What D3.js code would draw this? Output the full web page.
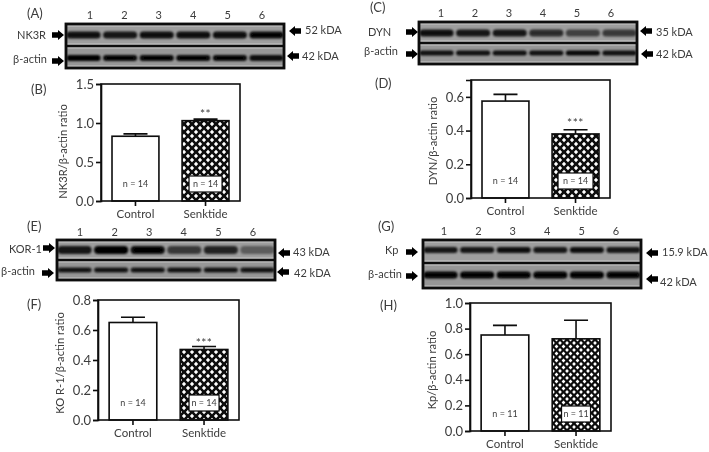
<!DOCTYPE html>
<html>
<head>
<meta charset="utf-8">
<title>Western blots and band ratios</title>
<script src="https://d3js.org/d3.v7.min.js"></script>
<style type="text/css">
	html, body { margin: 0; padding: 0; background: #fff; }
	svg { display: block; }
	text { font-family: Lato, "Open Sans", sans-serif; fill: #3c3c3c; }
	.axis text { font-size: 13px; fill: #3c3c3c; }
	.xaxis text { font-size: 11.5px; }
	.axis path, .axis line { stroke: #111; stroke-width: 1.6; }
	.title { font-size: 11.2px; }
	.nlabel { font-size: 9px; }
	.sig { font-size: 12px; letter-spacing: 0.5px; }
	.blotlabel { font-size: 11px; }
	.lane { font-size: 11px; }
	.letter { font-size: 13px; }
</style>
</head>
<body>
<div id="visualization"></div>
<script type="text/javascript">
var svg_width = 709;
var svg_height = 452;

// bar charts
var groups = ["Control", "Senktide"];
var nk3r_means = [0.83, 1.03];
var nk3r_tops = [0.86, 1.05];
var nk3r_n = [14, 14];
var dyn_means = [0.575, 0.38];
var dyn_tops = [0.615, 0.405];
var dyn_n = [14, 14];
var kor_means = [0.65, 0.47];
var kor_tops = [0.685, 0.49];
var kor_n = [14, 14];
var kp_means = [0.75, 0.72];
var kp_tops = [0.825, 0.865];
var kp_n = [11, 11];

var nk3r_ticks = [0, 0.5, 1, 1.5];
var dyn_ticks = [0, 0.2, 0.4, 0.6];
var kor_ticks = [0, 0.2, 0.4, 0.6, 0.8];
var kp_ticks = [0, 0.2, 0.4, 0.6, 0.8, 1];

// blots, band darkness per lane (0-1) read by eye
var lanes = [1, 2, 3, 4, 5, 6];
var nk3r_bands = [0.9, 0.85, 0.9, 0.9, 0.9, 0.95];
var nk3r_actin = [1, 0.95, 0.95, 0.95, 0.95, 0.9];
var dyn_bands = [0.9, 0.85, 0.85, 0.7, 0.55, 0.6];
var dyn_actin = [0.9, 0.9, 0.9, 0.9, 0.95, 0.9];
var kor_bands = [0.85, 1, 0.95, 0.6, 0.75, 0.35];
var kor_actin = [0.85, 0.85, 0.85, 0.85, 0.85, 0.85];
var kp_bands = [0.85, 0.85, 0.9, 0.85, 0.9, 0.85];
var kp_actin = [1, 1, 1, 1, 1, 0.95];

var svg = d3.select("#visualization")
	.append("svg")
	.attr("width", svg_width)
	.attr("height", svg_height);

var defs = svg.append("defs");
defs.append("filter").attr("id", "soft")
	.append("feGaussianBlur").attr("stdDeviation", 0.35);
defs.append("filter").attr("id", "bandblur")
	.attr("x", "-20%").attr("y", "-100%").attr("width", "140%").attr("height", "300%")
	.append("feGaussianBlur").attr("stdDeviation", "1.3 0.9");

// checkered fill of the Senktide bars
function addPattern(id, size) {
	var p = defs.append("pattern").attr("id", id)
		.attr("patternUnits", "userSpaceOnUse")
		.attr("width", size).attr("height", size);
	p.append("rect").attr("width", size).attr("height", size).attr("fill", "#0a0a0a");
	var r = size * 0.27;
	[[0, 0], [size, 0], [0, size], [size, size], [size / 2, size / 2]].forEach(function(c) {
		p.append("path")
			.attr("d", "M" + (c[0] - r) + "," + c[1] + "L" + c[0] + "," + (c[1] - r) + "L" + (c[0] + r) + "," + c[1] + "L" + c[0] + "," + (c[1] + r) + "Z")
			.attr("fill", "#fff");
	});
}
addPattern("check", 8);
addPattern("checkfine", 7);

var root = svg.append("g").attr("filter", "url(#soft)");

function drawBars(o) {
	var g = root.append("g");
	var x = d3.scaleBand().domain(groups)
		.range([o.left, o.right]).paddingInner(0.33).paddingOuter(0.157);
	var y = d3.scaleLinear().domain([0, o.max]).range([o.bottom, o.top]);

	g.selectAll(".bar").data(groups).enter().append("rect")
		.attr("x", function(d) { return x(d); })
		.attr("y", function(d, i) { return y(o.means[i]); })
		.attr("width", x.bandwidth())
		.attr("height", function(d, i) { return o.bottom - y(o.means[i]); })
		.attr("fill", function(d, i) { return i == 0 ? "#fff" : "url(#" + o.pattern + ")"; })
		.attr("stroke", "#0a0a0a")
		.attr("stroke-width", 1.6);

	// error bars
	g.selectAll(".err").data(groups).enter().append("path")
		.attr("d", function(d, i) {
			var c = x(d) + x.bandwidth() / 2;
			return "M" + c + "," + y(o.means[i]) + "V" + y(o.tops[i]) + "M" + (c - 12) + "," + y(o.tops[i]) + "H" + (c + 12);
		})
		.attr("fill", "none").attr("stroke", "#0a0a0a").attr("stroke-width", 1.6);

	// frame
	g.append("rect")
		.attr("x", o.left).attr("y", o.top)
		.attr("width", o.right - o.left).attr("height", o.bottom - o.top)
		.attr("fill", "none").attr("stroke", "#111").attr("stroke-width", 1.6);

	g.append("g").attr("class", "axis")
		.attr("transform", "translate(" + o.left + ",0)")
		.call(d3.axisLeft(y).tickValues(o.ticks).tickFormat(d3.format(".1f")).tickSize(5).tickPadding(2));
	var xaxis = g.append("g").attr("class", "axis xaxis")
		.attr("transform", "translate(0," + o.bottom + ")")
		.call(d3.axisBottom(x).tickSize(5).tickPadding(4));
	xaxis.select(".domain").remove();

	g.append("text").attr("class", "title")
		.attr("transform", "translate(" + (o.left - 34) + "," + ((o.bottom + o.top) / 2 + o.titleDy) + ") rotate(-90)")
		.attr("text-anchor", "middle")
		.text(o.title);

	// n labels, the Senktide one sits on a white box
	groups.forEach(function(d, i) {
		var c = x(d) + x.bandwidth() / 2;
		if (i == 1) {
			g.append("rect")
				.attr("x", c - o.boxw / 2).attr("y", o.bottom - 25)
				.attr("width", o.boxw).attr("height", 16)
				.attr("fill", "#fff").attr("stroke", "#0a0a0a").attr("stroke-width", 1.2);
		}
		g.append("text").attr("class", "nlabel")
			.attr("x", c).attr("y", o.bottom - 14)
			.attr("text-anchor", "middle")
			.text("n = " + o.n[i]);
	});

	if (o.sig) {
		g.append("text").attr("class", "sig")
			.attr("x", x(groups[1]) + x.bandwidth() / 2)
			.attr("y", y(o.tops[1]) - o.sigGap)
			.attr("text-anchor", "middle")
			.text(o.sig);
	}
}

function drawStrip(g, o, s, bands) {
	var x = d3.scaleBand().domain(lanes).range([o.left, o.right]).paddingInner(0.04);
	var dark = d3.scaleLinear().domain([0, 1]).range([0.1, 1]);
	var h = s.bottom - s.top;
	g.append("rect")
		.attr("x", o.left).attr("y", s.top)
		.attr("width", o.right - o.left).attr("height", h)
		.attr("fill", s.bg);
	g.append("path")
		.attr("d", "M" + o.left + "," + (s.top + 1.8) + "H" + o.right + "M" + o.left + "," + (s.bottom - 1.8) + "H" + o.right)
		.attr("stroke", "#cfcfcf").attr("stroke-width", 1.6).attr("opacity", 0.8);
	g.selectAll(".band").data(lanes).enter().append("rect")
		.attr("x", function(d) { return x(d) + 0.5; })
		.attr("y", s.centre - s.thick / 2)
		.attr("width", x.bandwidth() - 1)
		.attr("height", s.thick)
		.attr("rx", s.thick / 2)
		.attr("fill", "#000")
		.attr("opacity", function(d, i) { return dark(bands[i]); })
		.attr("filter", "url(#bandblur)");
}

// dir: 1 points right, -1 points left
function arrow(cx, cy, dir) {
	root.append("path")
		.attr("d", d3.line()([[-6, -2.8], [0, -2.8], [0, -5], [6, 0], [0, 5], [0, 2.8], [-6, 2.8]]) + "Z")
		.attr("transform", "translate(" + cx + "," + cy + ") scale(" + dir + ",1)")
		.attr("fill", "#050505");
}

function label(cls, px, py, txt) {
	root.append("text").attr("class", cls).attr("x", px).attr("y", py)
		.attr("dominant-baseline", "middle").text(txt);
}

function drawBlot(o) {
	var g = root.append("g");
	drawStrip(g, o, { top: o.top, bottom: o.mid, centre: o.topBand, thick: o.topThick, bg: "#9e9e9e" }, o.bands);
	drawStrip(g, o, { top: o.mid, bottom: o.bottom, centre: o.lowBand, thick: o.lowThick, bg: "#979797" }, o.actin);
	g.append("rect")
		.attr("x", o.left).attr("y", o.top)
		.attr("width", o.right - o.left).attr("height", o.bottom - o.top)
		.attr("fill", "none").attr("stroke", "#0a0a0a").attr("stroke-width", 2.8);
	g.append("line")
		.attr("x1", o.left).attr("x2", o.right).attr("y1", o.mid).attr("y2", o.mid)
		.attr("stroke", "#0a0a0a").attr("stroke-width", 2.6);

	var lx = d3.scalePoint().domain(lanes).range(o.laneRange);
	root.selectAll(null).data(lanes).enter().append("text")
		.attr("class", "lane")
		.attr("x", function(d) { return lx(d); })
		.attr("y", o.laneY)
		.attr("text-anchor", "middle")
		.attr("dominant-baseline", "middle")
		.text(function(d) { return d; });

	o.arrows.forEach(function(a) { arrow(a[0], a[1], a[2]); });
	o.labels.forEach(function(l) { label("blotlabel", l[0], l[1], l[2]); });
}

drawBlot({
	left: 66, right: 284, top: 24, mid: 46, bottom: 68,
	topBand: 35, lowBand: 58, topThick: 7, lowThick: 6,
	bands: nk3r_bands, actin: nk3r_actin,
	laneRange: [90, 262], laneY: 16,
	arrows: [[58, 35, 1], [58, 61, 1], [295, 31, -1], [293, 56, -1]],
	labels: [[17, 36, "NK3R"], [13, 60, "β-actin"], [305, 31, "52 kDA"], [302, 57, "42 kDA"]]
});
drawBlot({
	left: 419, right: 637, top: 22, mid: 43, bottom: 64,
	topBand: 33, lowBand: 53, topThick: 7, lowThick: 5,
	bands: dyn_bands, actin: dyn_actin,
	laneRange: [441, 611], laneY: 14,
	arrows: [[412, 32, 1], [412, 54, 1], [646, 31, -1], [647, 54, -1]],
	labels: [[368, 33, "DYN"], [364, 52, "β-actin"], [656, 33, "35 kDA"], [656, 55, "42 kDA"]]
});
drawBlot({
	left: 57, right: 275, top: 240, mid: 260, bottom: 280,
	topBand: 250, lowBand: 270, topThick: 8, lowThick: 5,
	bands: kor_bands, actin: kor_actin,
	laneRange: [80, 253], laneY: 233,
	arrows: [[49, 248, 1], [48, 273, 1], [284, 253, -1], [283, 272, -1]],
	labels: [[9, 250, "KOR-1"], [1, 272, "β-actin"], [293, 253, "43 kDA"], [294, 274, "42 kDA"]]
});
drawBlot({
	left: 423, right: 641, top: 240, mid: 263, bottom: 288,
	topBand: 250, lowBand: 275, topThick: 6, lowThick: 7,
	bands: kp_bands, actin: kp_actin,
	laneRange: [444, 616], laneY: 232,
	arrows: [[412, 252, 1], [412, 276, 1], [652, 253, -1], [652, 279, -1]],
	labels: [[385, 251, "Kp"], [368, 275, "β-actin"], [662, 253, "15.9 kDA"], [660, 283, "42 kDA"]]
});

drawBars({
	left: 101, right: 240, top: 84, bottom: 201, max: 1.5, titleDy: 9,
	means: nk3r_means, tops: nk3r_tops, n: nk3r_n, ticks: nk3r_ticks,
	title: "NK3R/β-actin ratio", pattern: "check", boxw: 33, sig: "**", sigGap: 1
});
drawBars({
	left: 471, right: 610, top: 80, bottom: 198, max: 0.7, titleDy: 2,
	means: dyn_means, tops: dyn_tops, n: dyn_n, ticks: dyn_ticks,
	title: "DYN/β-actin ratio", pattern: "check", boxw: 35, sig: "***", sigGap: 3
});
drawBars({
	left: 98, right: 239, top: 300, bottom: 420, max: 0.8, titleDy: 3,
	means: kor_means, tops: kor_tops, n: kor_n, ticks: kor_ticks,
	title: "KO R-1/β-actin ratio", pattern: "check", boxw: 30, sig: "***", sigGap: 0
});
drawBars({
	left: 470, right: 611, top: 303, bottom: 431, max: 1, titleDy: 3,
	means: kp_means, tops: kp_tops, n: kp_n, ticks: kp_ticks,
	title: "Kp/β-actin ratio", pattern: "checkfine", boxw: 29, sig: "", sigGap: 0
});

[["(A)", 27, 15], ["(B)", 31, 91], ["(C)", 370, 9], ["(D)", 375, 85],
 ["(E)", 27, 228], ["(F)", 27, 306], ["(G)", 378, 228], ["(H)", 380, 307]].forEach(function(l) {
	label("letter", l[1], l[2], l[0]);
});
</script>
</body>
</html>
